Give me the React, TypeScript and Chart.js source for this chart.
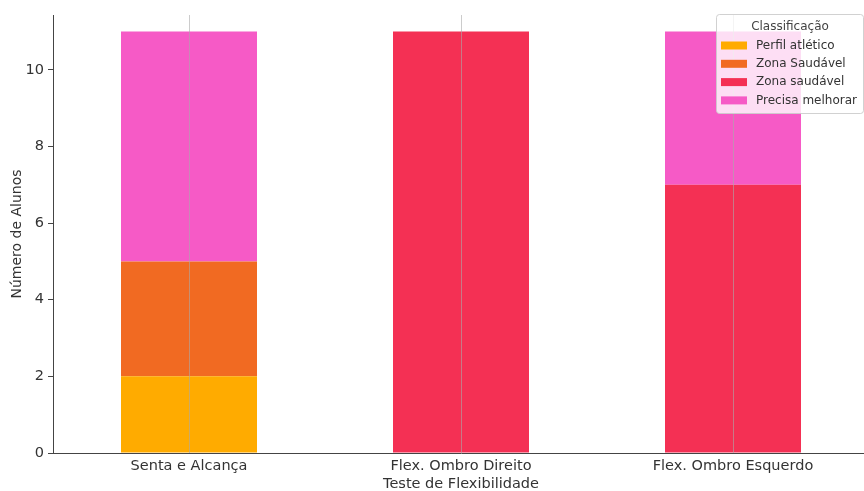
import React, { useEffect, useRef } from "react";
import { Chart, registerables } from "chart.js";

Chart.register(...registerables);

const categories = ["Senta e Alcança", "Flex. Ombro Direito", "Flex. Ombro Esquerdo"];
const perfilAtletico = [2, 0, 0];
const zonaSaudavelUpper = [3, 0, 0];
const zonaSaudavelLower = [0, 11, 7];
const precisaMelhorar = [6, 0, 4];
const yTicks = [0, 2, 4, 6, 8, 10];

const FONT = "'DejaVu Sans', sans-serif";

// Vertical grid lines at each category, painted over the bars
const gridOverlay = {
  id: "gridOverlay",
  afterDatasetsDraw(chart: any) {
    const { ctx, chartArea, scales } = chart;
    const x = scales.x;
    ctx.save();
    ctx.strokeStyle = "rgba(170,170,170,0.6)";
    ctx.lineWidth = 1;
    for (let i = 0; i < categories.length; i++) {
      const px = Math.round(x.getPixelForValue(i)) + 0.5;
      ctx.beginPath();
      ctx.moveTo(px, chartArea.top);
      ctx.lineTo(px, chartArea.bottom);
      ctx.stroke();
    }
    ctx.restore();
  },
};

// Legend box in the upper-right corner of the plot
const cornerLegend = {
  id: "cornerLegend",
  afterDraw(chart: any) {
    const { ctx } = chart;
    const left = 716, top = 14, w = 147, h = 99;
    ctx.save();
    ctx.fillStyle = "rgba(255,255,255,0.8)";
    ctx.strokeStyle = "rgba(204,204,204,0.9)";
    ctx.lineWidth = 1;
    ctx.beginPath();
    ctx.roundRect(left + 0.5, top + 0.5, w, h, 3);
    ctx.fill();
    ctx.stroke();
    ctx.fillStyle = "#444";
    ctx.font = `12px ${FONT}`;
    ctx.textAlign = "center";
    ctx.textBaseline = "middle";
    ctx.fillText("Classificação", 790, 27);
    ctx.textAlign = "left";
    chart.data.datasets.forEach((ds: any, i: number) => {
      const cy = 45.5 + i * 18.3;
      ctx.fillStyle = ds.backgroundColor;
      ctx.fillRect(721, cy - 4, 26, 8);
      ctx.fillStyle = "#333";
      ctx.fillText(ds.label, 756, cy);
    });
    ctx.restore();
  },
};

export default function App() {
  const ref = useRef<HTMLCanvasElement>(null);

  useEffect(() => {
    if (!ref.current) return;
    const chart = new Chart(ref.current, {
      type: "bar",
      data: {
        labels: categories,
        datasets: [
          { label: "Perfil atlético", data: perfilAtletico, backgroundColor: "#FFAB00" },
          { label: "Zona Saudável", data: zonaSaudavelUpper, backgroundColor: "#F16A22" },
          { label: "Zona saudável", data: zonaSaudavelLower, backgroundColor: "#F43054" },
          { label: "Precisa melhorar", data: precisaMelhorar, backgroundColor: "#F65AC6" },
        ],
      },
      options: {
        responsive: false,
        animation: false,
        layout: { padding: { top: 15, left: 0, right: 0, bottom: 0 } },
        datasets: { bar: { barPercentage: 0.5, categoryPercentage: 1, borderWidth: 0 } },
        plugins: { legend: { display: false }, tooltip: { enabled: false } },
        scales: {
          x: {
            stacked: true,
            offset: true,
            grid: {
              display: true,
              offset: false,
              drawOnChartArea: false,
              tickLength: 5,
              color: "rgba(0,0,0,0)",
            },
            border: { display: true, color: "#444", width: 1 },
            ticks: { color: "#333", font: { family: FONT, size: 14.5 }, padding: 0, maxRotation: 0 },
            title: {
              display: true,
              text: "Teste de Flexibilidade",
              color: "#333",
              font: { family: FONT, size: 14.5 },
              padding: { top: 0, bottom: -2 },
            },
            afterFit(scale: any) {
              scale.height = 38;
            },
          },
          y: {
            stacked: true,
            min: 0,
            max: 11.43,
            grid: { display: true, drawOnChartArea: false, tickLength: 5, color: "#444" },
            border: { display: true, color: "#444", width: 1 },
            ticks: { color: "#333", font: { family: FONT, size: 14.5 }, padding: 4 },
            afterBuildTicks(scale: any) {
              scale.ticks = yTicks.map((v) => ({ value: v }));
            },
            title: {
              display: true,
              text: "Número de Alunos",
              color: "#333",
              font: { family: FONT, size: 14 },
              padding: { top: 9, bottom: 0 },
            },
            afterFit(scale: any) {
              scale.width = 53;
            },
          },
        },
      },
      plugins: [gridOverlay, cornerLegend],
    });
    return () => chart.destroy();
  }, []);

  return (
    <div
      style={{
        position: "absolute",
        left: 0,
        top: 0,
        width: 864,
        height: 491,
        overflow: "hidden",
        background: "#fff",
      }}
    >
      <canvas ref={ref} width={869} height={491} style={{ width: 869, height: 491 }} />
    </div>
  );
}
